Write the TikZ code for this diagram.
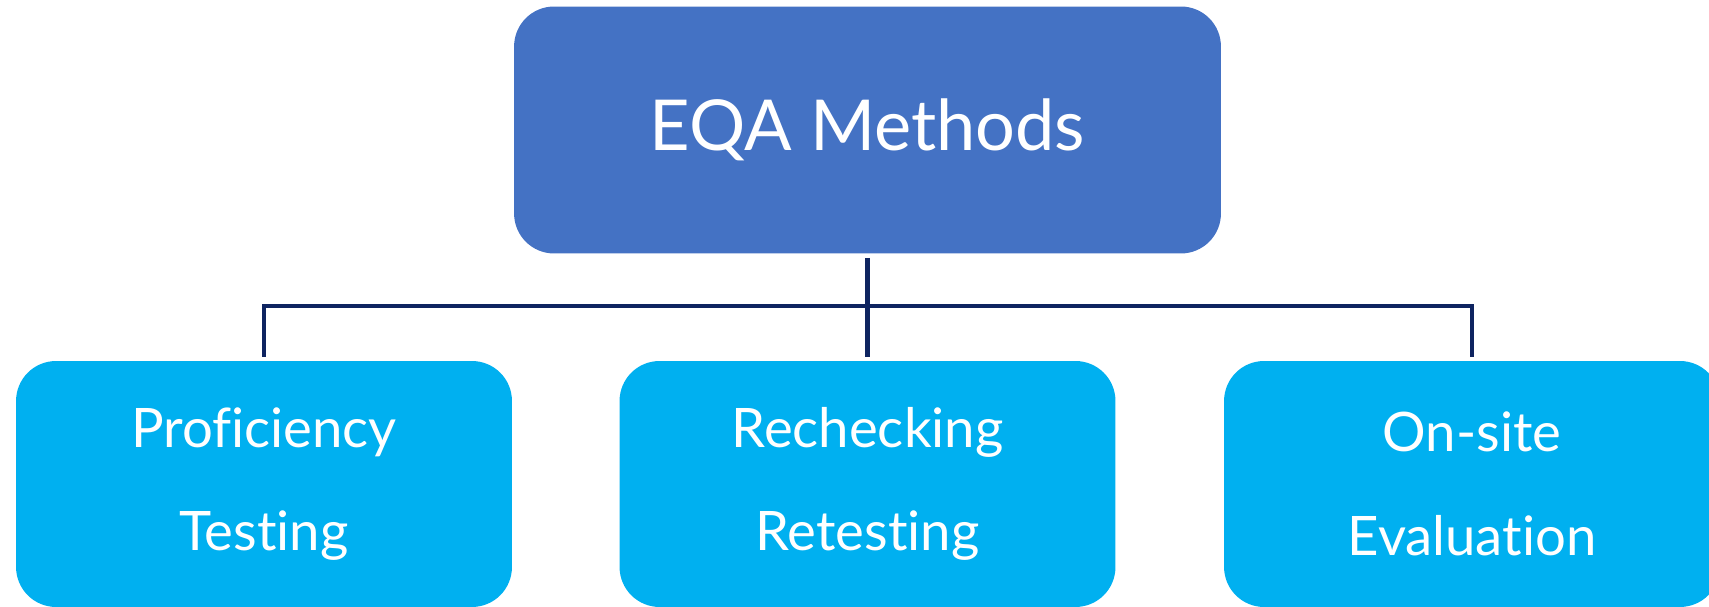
\documentclass[tikz,border=0pt]{standalone}
\usepackage{fontspec}
\setmainfont[Ligatures=NoCommon]{Lato}
\usepackage{tikz}
\usetikzlibrary{positioning,calc}
\definecolor{eqaBlue}{RGB}{68,114,196}
\definecolor{eqaCyan}{RGB}{0,176,240}
\definecolor{eqaNavy}{RGB}{14,36,96}

\begin{document}
\begin{tikzpicture}[
    x=0.02cm, y=0.02cm,
    headbox/.style={fill=eqaBlue, rounded corners=0.8cm, minimum width=14.14cm,
      minimum height=4.94cm, text=white, font=\fontsize{40}{46}\selectfont},
    methodbox/.style={fill=eqaCyan, rounded corners=0.8cm, minimum width=9.92cm,
      minimum height=4.92cm, text=white, align=center,
      font=\fontsize{31}{59}\selectfont},
    link/.style={eqaNavy, line width=2.3pt, shorten <=0.08cm, shorten >=0.08cm}
  ]
    \useasboundingbox (0,0) rectangle (1709,607);
    % root of the tree
    \node[headbox] (eqa) at (867.5,477) {EQA Methods};
    % the three methods
    \node[methodbox] (pt)  at (264,123)    {Proficiency\\Testing};
    \node[methodbox] (rck) at (867.5,123)  {Rechecking\\Retesting};
    \node[methodbox] (ose) at (1472,123)   {On-site\\Evaluation};
    \coordinate (bar) at (867.5,301);
    % connectors
    \draw[link] (eqa.south) -- (rck.north);
    \draw[link] (pt.north) |- (bar) -| (ose.north);
  \end{tikzpicture}
\end{document}
